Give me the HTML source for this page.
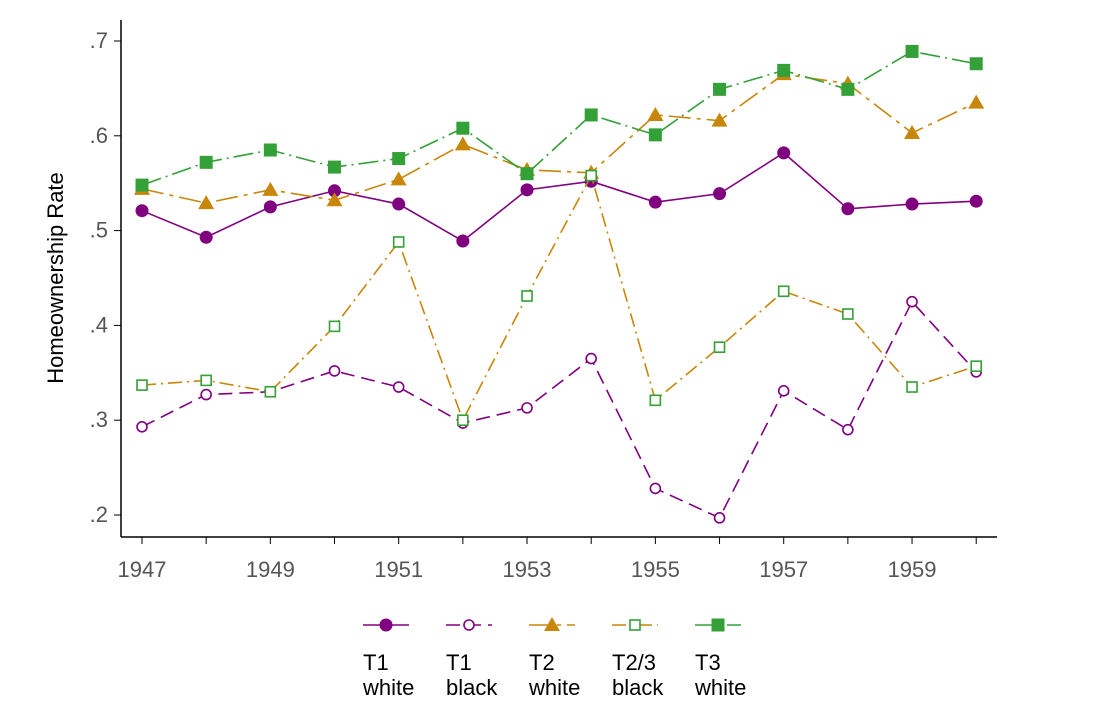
<!DOCTYPE html>
<html><head><meta charset="utf-8"><style>body{margin:0;background:#fff}svg{display:block;font-family:"Liberation Sans",sans-serif}</style></head>
<body>
<svg id="chart" width="1101" height="709" viewBox="0 0 1101 709"></svg>
<script>
const years=[1947,1948,1949,1950,1951,1952,1953,1954,1955,1956,1957,1958,1959,1960];
const t1White=[.521,.493,.525,.542,.528,.489,.543,.552,.530,.539,.582,.523,.528,.531];
const t1Black=[.293,.327,.330,.352,.335,.297,.313,.365,.228,.197,.331,.290,.425,.351];
const t2White=[.544,.529,.543,.532,.554,.591,.564,.561,.622,.616,.665,.655,.603,.635];
const t23Black=[.337,.342,.330,.399,.488,.300,.431,.558,.321,.377,.436,.412,.335,.357];
const t3White=[.548,.572,.585,.567,.576,.608,.560,.622,.601,.649,.669,.649,.689,.676];
const yTicks=[.2,.3,.4,.5,.6,.7];
const yTickLabels=[".2",".3",".4",".5",".6",".7"];
const xTicks=[1947,1949,1951,1953,1955,1957,1959];
const P="#800080",O="#c8860a",G="#34a038";
const svg=document.getElementById('chart');const NS="http://www.w3.org/2000/svg";
function x(v){return 142+(v-1947)*64.17;}
function y(v){return 515-(v-0.2)*948;}
function mk(t,a,parent){const e=document.createElementNS(NS,t);for(const k in a)e.setAttribute(k,a[k]);(parent||svg).appendChild(e);return e;}
let e;
e=mk('line',{x1:121,y1:20,x2:121,y2:537,stroke:'#000','stroke-width':1.5});


e=mk('line',{x1:121,y1:537,x2:997,y2:537,stroke:'#000','stroke-width':1.5});


yTicks.forEach((t,i)=>{mk('line',{x1:114,x2:121,y1:y(t),y2:y(t),stroke:'#000'});
 e=mk('text',{x:108,y:y(t)+7,'text-anchor':'end','font-size':22,fill:'#555'});e.textContent=yTickLabels[i];
 
 });
years.forEach(t=>mk('line',{x1:x(t),x2:x(t),y1:537,y2:544,stroke:'#000'}));
xTicks.forEach(t=>{e=mk('text',{x:x(t),y:577,'text-anchor':'middle','font-size':22,fill:'#555'});e.textContent=t;
 
 });
e=mk('text',{x:63,y:278,'text-anchor':'middle','font-size':22,transform:'rotate(-90 63 278)'});e.textContent='Homeownership Rate';


function marker(g,cx,cy,type,color){
 if(type==='dot')mk('circle',{cx,cy,r:6.5,fill:color},g);
 else if(type==='ring')mk('circle',{cx,cy,r:5,fill:'#fff',stroke:color,'stroke-width':1.6},g);
 else if(type==='tri')mk('polygon',{points:`${cx},${cy-8} ${cx-8},${cy+6} ${cx+8},${cy+6}`,fill:color},g);
 else if(type==='hsq')mk('rect',{x:cx-5,y:cy-5,width:10,height:10,fill:'#fff',stroke:color,'stroke-width':1.6},g);
 else mk('rect',{x:cx-6.5,y:cy-6.5,width:13,height:13,fill:color},g);}
const series=[
 ['t1-white',t1White,P,P,'dot','none'],
 ['t1-black',t1Black,P,P,'ring','14 7'],
 ['t2-white',t2White,O,O,'tri','22 6 4 6'],
 ['t2-3-black',t23Black,O,G,'hsq','14 5 2 5'],
 ['t3-white',t3White,G,G,'sq','20 5 2 5']];
series.forEach((s,i)=>{
 const g=mk('g',{});
 
 
 mk('polyline',{points:years.map((yr,j)=>x(yr)+','+y(s[1][j])).join(' '),fill:'none',stroke:s[2],'stroke-width':1.6,'stroke-dasharray':s[5]},g);
 years.forEach((yr,j)=>marker(g,x(yr),y(s[1][j]),s[4],s[3]));
 const lx=363+i*83;
 const lg=mk('g',{});
 
 
 mk('line',{x1:lx,x2:lx+46,y1:625,y2:625,stroke:s[2],'stroke-width':1.6,'stroke-dasharray':s[5]},lg);
 marker(lg,lx+23,625,s[4],s[3]);
 const lab=[['T1','white'],['T1','black'],['T2','white'],['T2/3','black'],['T3','white']][i];
 lab.forEach((w,k)=>{const t=mk('text',{x:lx,y:670+k*25,'font-size':22},lg);t.textContent=w;});
});
</script>
</body></html>
